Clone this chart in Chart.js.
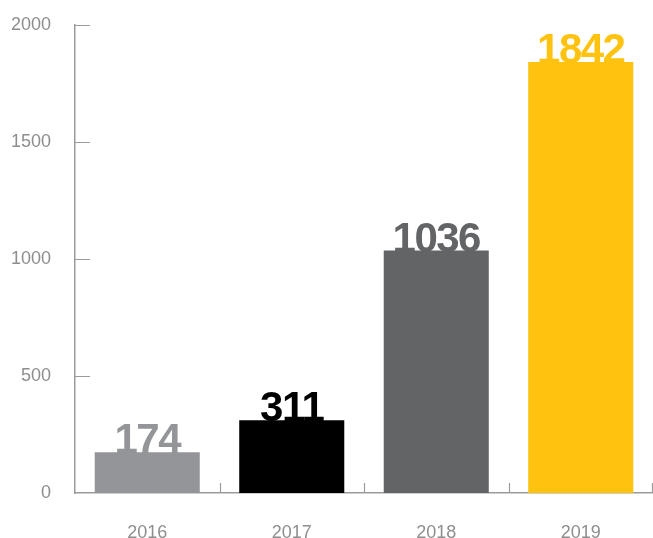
<!DOCTYPE html>
<html>
<head>
<meta charset="utf-8">
<script src="https://cdn.jsdelivr.net/npm/chart.js@4"></script>
<style>
  html, body { margin: 0; padding: 0; background: #fff; }
  #wrap { width: 653px; height: 538px; }
</style>
</head>
<body>
<div id="wrap"><canvas id="c" width="653" height="538"></canvas></div>
<script>
const years = ['2016', '2017', '2018', '2019'];
const counts = [174, 311, 1036, 1842];
const barColors = ['#939598', '#000000', '#636466', '#FFC20E'];
const yTicks = [0, 500, 1000, 1500, 2000];

const AXIS_COLOR = '#9b9b9b';
const TEXT_COLOR = '#8e8e8e';

// Short tick marks pointing into the plot area, plus the value labels above bars.
const innerTicks = {
  id: 'innerTicks',
  afterDraw(chart) {
    const ctx = chart.ctx;
    const x = chart.scales.x, y = chart.scales.y;
    const area = chart.chartArea;
    ctx.save();
    ctx.strokeStyle = AXIS_COLOR;
    ctx.lineWidth = 1.2;
    ctx.beginPath();
    yTicks.forEach(v => {
      if (v === 0) return;
      const py = Math.round(y.getPixelForValue(v)) + 0.5;
      ctx.moveTo(area.left, py);
      ctx.lineTo(area.left + 15, py);
    });
    for (let i = 0; i < years.length; i++) {
      const px = i < years.length - 1
        ? (x.getPixelForTick(i) + x.getPixelForTick(i + 1)) / 2
        : area.right - 1;
      const rx = Math.round(px) + 0.5;
      ctx.moveTo(rx, area.bottom);
      ctx.lineTo(rx, area.bottom - 10);
    }
    ctx.stroke();
    ctx.restore();
  },
  afterDatasetsDraw(chart) {
    const ctx = chart.ctx;
    const meta = chart.getDatasetMeta(0);
    ctx.save();
    ctx.font = 'bold 42px "Liberation Sans", Arial, sans-serif';
    ctx.textAlign = 'center';
    ctx.textBaseline = 'alphabetic';
    if ('letterSpacing' in ctx) ctx.letterSpacing = '-1.5px';
    meta.data.forEach((bar, i) => {
      ctx.fillStyle = barColors[i];
      ctx.fillText(String(counts[i]), bar.x, bar.y + 1);
    });
    ctx.restore();
  }
};

new Chart(document.getElementById('c'), {
  type: 'bar',
  data: {
    labels: years,
    datasets: [{
      data: counts,
      backgroundColor: barColors,
      borderWidth: 0,
      categoryPercentage: 1,
      barPercentage: 0.727
    }]
  },
  options: {
    responsive: false,
    animation: false,
    events: [],
    layout: { padding: { top: 25, right: 0, bottom: 0, left: 0 } },
    plugins: { legend: { display: false }, tooltip: { enabled: false } },
    scales: {
      x: {
        grid: { display: false, drawTicks: false },
        border: { display: true, color: AXIS_COLOR, width: 1.5 },
        ticks: {
          color: TEXT_COLOR,
          padding: 29,
          font: { family: '"Liberation Sans", Arial, sans-serif', size: 18 }
        },
        afterFit(scale) { scale.height = 45; }
      },
      y: {
        min: 0,
        max: 2000,
        afterBuildTicks(scale) { scale.ticks = yTicks.map(v => ({ value: v })); },
        grid: { display: false, drawTicks: false },
        border: { display: true, color: AXIS_COLOR, width: 1.5 },
        ticks: {
          color: TEXT_COLOR,
          padding: 24,
          font: { family: '"Liberation Sans", Arial, sans-serif', size: 18 },
          callback: (v) => String(v)
        },
        afterFit(scale) {
          scale.width = 75;
          scale.paddingTop = 0;
          scale.paddingBottom = 0;
        }
      }
    }
  },
  plugins: [innerTicks]
});
</script>
</body>
</html>
